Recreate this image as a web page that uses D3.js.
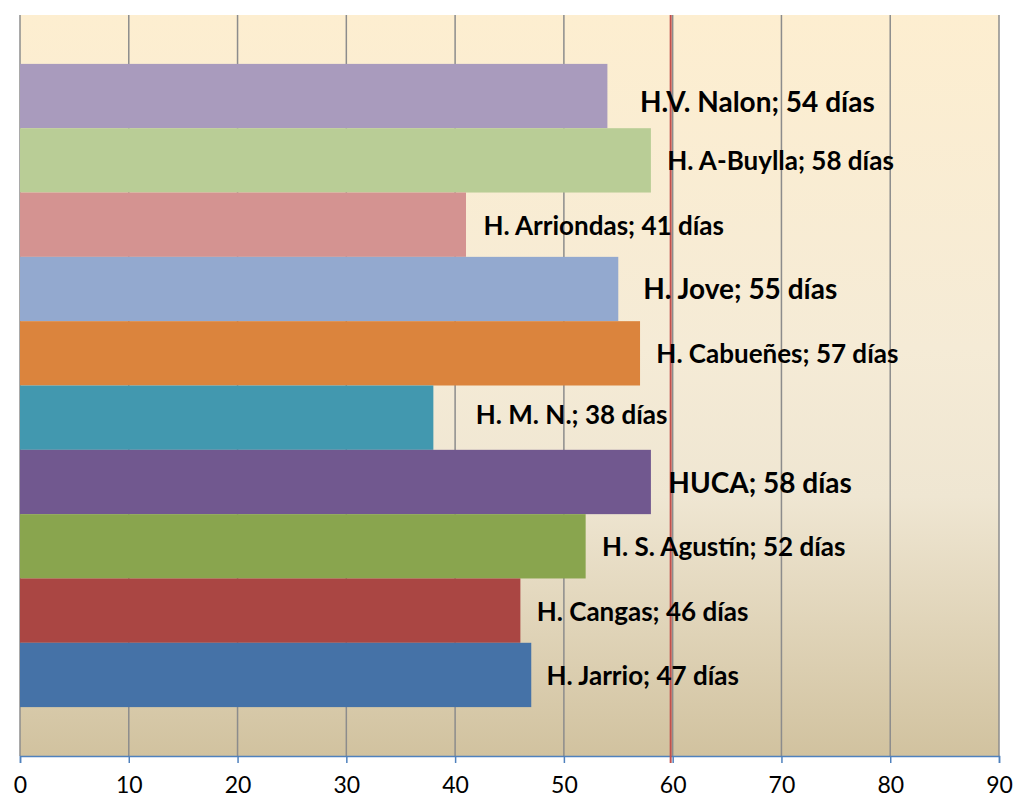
<!DOCTYPE html>
<html>
<head>
<meta charset="utf-8">
<script src="https://cdn.jsdelivr.net/npm/d3@7"></script>
<style>
  body { margin: 0; background: #fff; }
  svg { display: block; }
</style>
</head>
<body>
<svg id="chart"></svg>
<script>
// data, top to bottom as in the chart
const hospitals = ["H.V. Nalon", "H. A-Buylla", "H. Arriondas", "H. Jove", "H. Cabueñes",
                   "H. M. N.", "HUCA", "H. S. Agustín", "H. Cangas", "H. Jarrio"];
const days = [54, 58, 41, 55, 57, 38, 58, 52, 46, 47];
const barColors = ["#a99bbd", "#b9cd96", "#d49391", "#93a9cf", "#db843d",
                   "#4298af", "#71588f", "#89a54e", "#aa4643", "#4572a7"];
const xTicks = [0, 10, 20, 30, 40, 50, 60, 70, 80, 90];
const target = 60;

// label placement (dragged by hand in the original), in days and px
const labelAt = [57.0, 59.5, 42.6, 57.3, 58.5, 41.9, 59.6, 53.5, 47.5, 48.4];
const labelDy = [15.6, 9.6, 10.3, 10, 9.7, 6.4, 11, 9.7, 10.4, 10.1];
const bigLabel = [true, false, false, true, false, false, true, false, false, false];

const width = 1016, height = 799;
const margin = { top: 15, right: 17, bottom: 43, left: 20 };

const svg = d3.select("#chart").attr("width", width).attr("height", height);

const x = d3.scaleLinear().domain([0, 90]).range([margin.left, width - margin.right]);
const y = d3.scaleBand().domain(hospitals)
    .range([margin.top, height - margin.bottom])
    .paddingInner(0).paddingOuter(0.76);

// plot background gradient
const grad = svg.append("defs").append("linearGradient")
    .attr("id", "bg").attr("x1", 0).attr("y1", 0).attr("x2", 0).attr("y2", 1);
[[0, "#fdeed0"], [0.45, "#f5ebd6"], [0.65, "#efe6d2"], [1, "#d1c29f"]]
    .forEach(s => grad.append("stop").attr("offset", s[0]).attr("stop-color", s[1]));

svg.append("rect")
    .attr("x", x(0)).attr("y", margin.top)
    .attr("width", x(90) - x(0)).attr("height", height - margin.bottom - margin.top)
    .attr("fill", "url(#bg)");

// vertical gridlines
svg.append("g").selectAll("line").data(xTicks).join("line")
    .attr("x1", d => x(d)).attr("x2", d => x(d))
    .attr("y1", margin.top).attr("y2", height - margin.bottom)
    .attr("stroke", "#8c8c8c").attr("stroke-width", 1.5);

// bars
const data = hospitals.map((h, i) => ({ name: h, value: days[i], i }));
svg.append("g").selectAll("rect").data(data).join("rect")
    .attr("x", x(0))
    .attr("y", d => y(d.name))
    .attr("width", d => x(d.value) - x(0))
    .attr("height", y.bandwidth())
    .attr("fill", d => barColors[d.i]);

// bottom axis
const axis = svg.append("g")
    .attr("transform", `translate(0,${height - margin.bottom})`)
    .call(d3.axisBottom(x).tickValues(xTicks).tickSize(7).tickPadding(14));
axis.select(".domain").attr("stroke", "#4f81bd").attr("stroke-width", 1.5);
axis.selectAll(".tick line").attr("stroke", "#4f81bd").attr("stroke-width", 1.5);
axis.selectAll(".tick text")
    .attr("fill", "#000")
    .style("font-family", "Lato, 'Open Sans', sans-serif")
    .style("font-size", "23px");

// target line at 60 days
svg.append("line")
    .attr("x1", x(target) - 2).attr("x2", x(target) - 2)
    .attr("y1", margin.top).attr("y2", height - margin.bottom + 7)
    .attr("stroke", "#c0504d").attr("stroke-width", 2);

// data labels
svg.append("g").selectAll("text").data(data).join("text")
    .attr("x", d => x(labelAt[d.i]))
    .attr("y", d => y(d.name) + y.bandwidth() / 2 + labelDy[d.i])
    .style("font-family", "Lato, 'Open Sans', sans-serif")
    .style("font-weight", "bold")
    .style("font-size", d => bigLabel[d.i] ? "28px" : "26px")
    .attr("fill", "#000")
    .text(d => `${d.name}; ${d.value} días`);
</script>
</body>
</html>
